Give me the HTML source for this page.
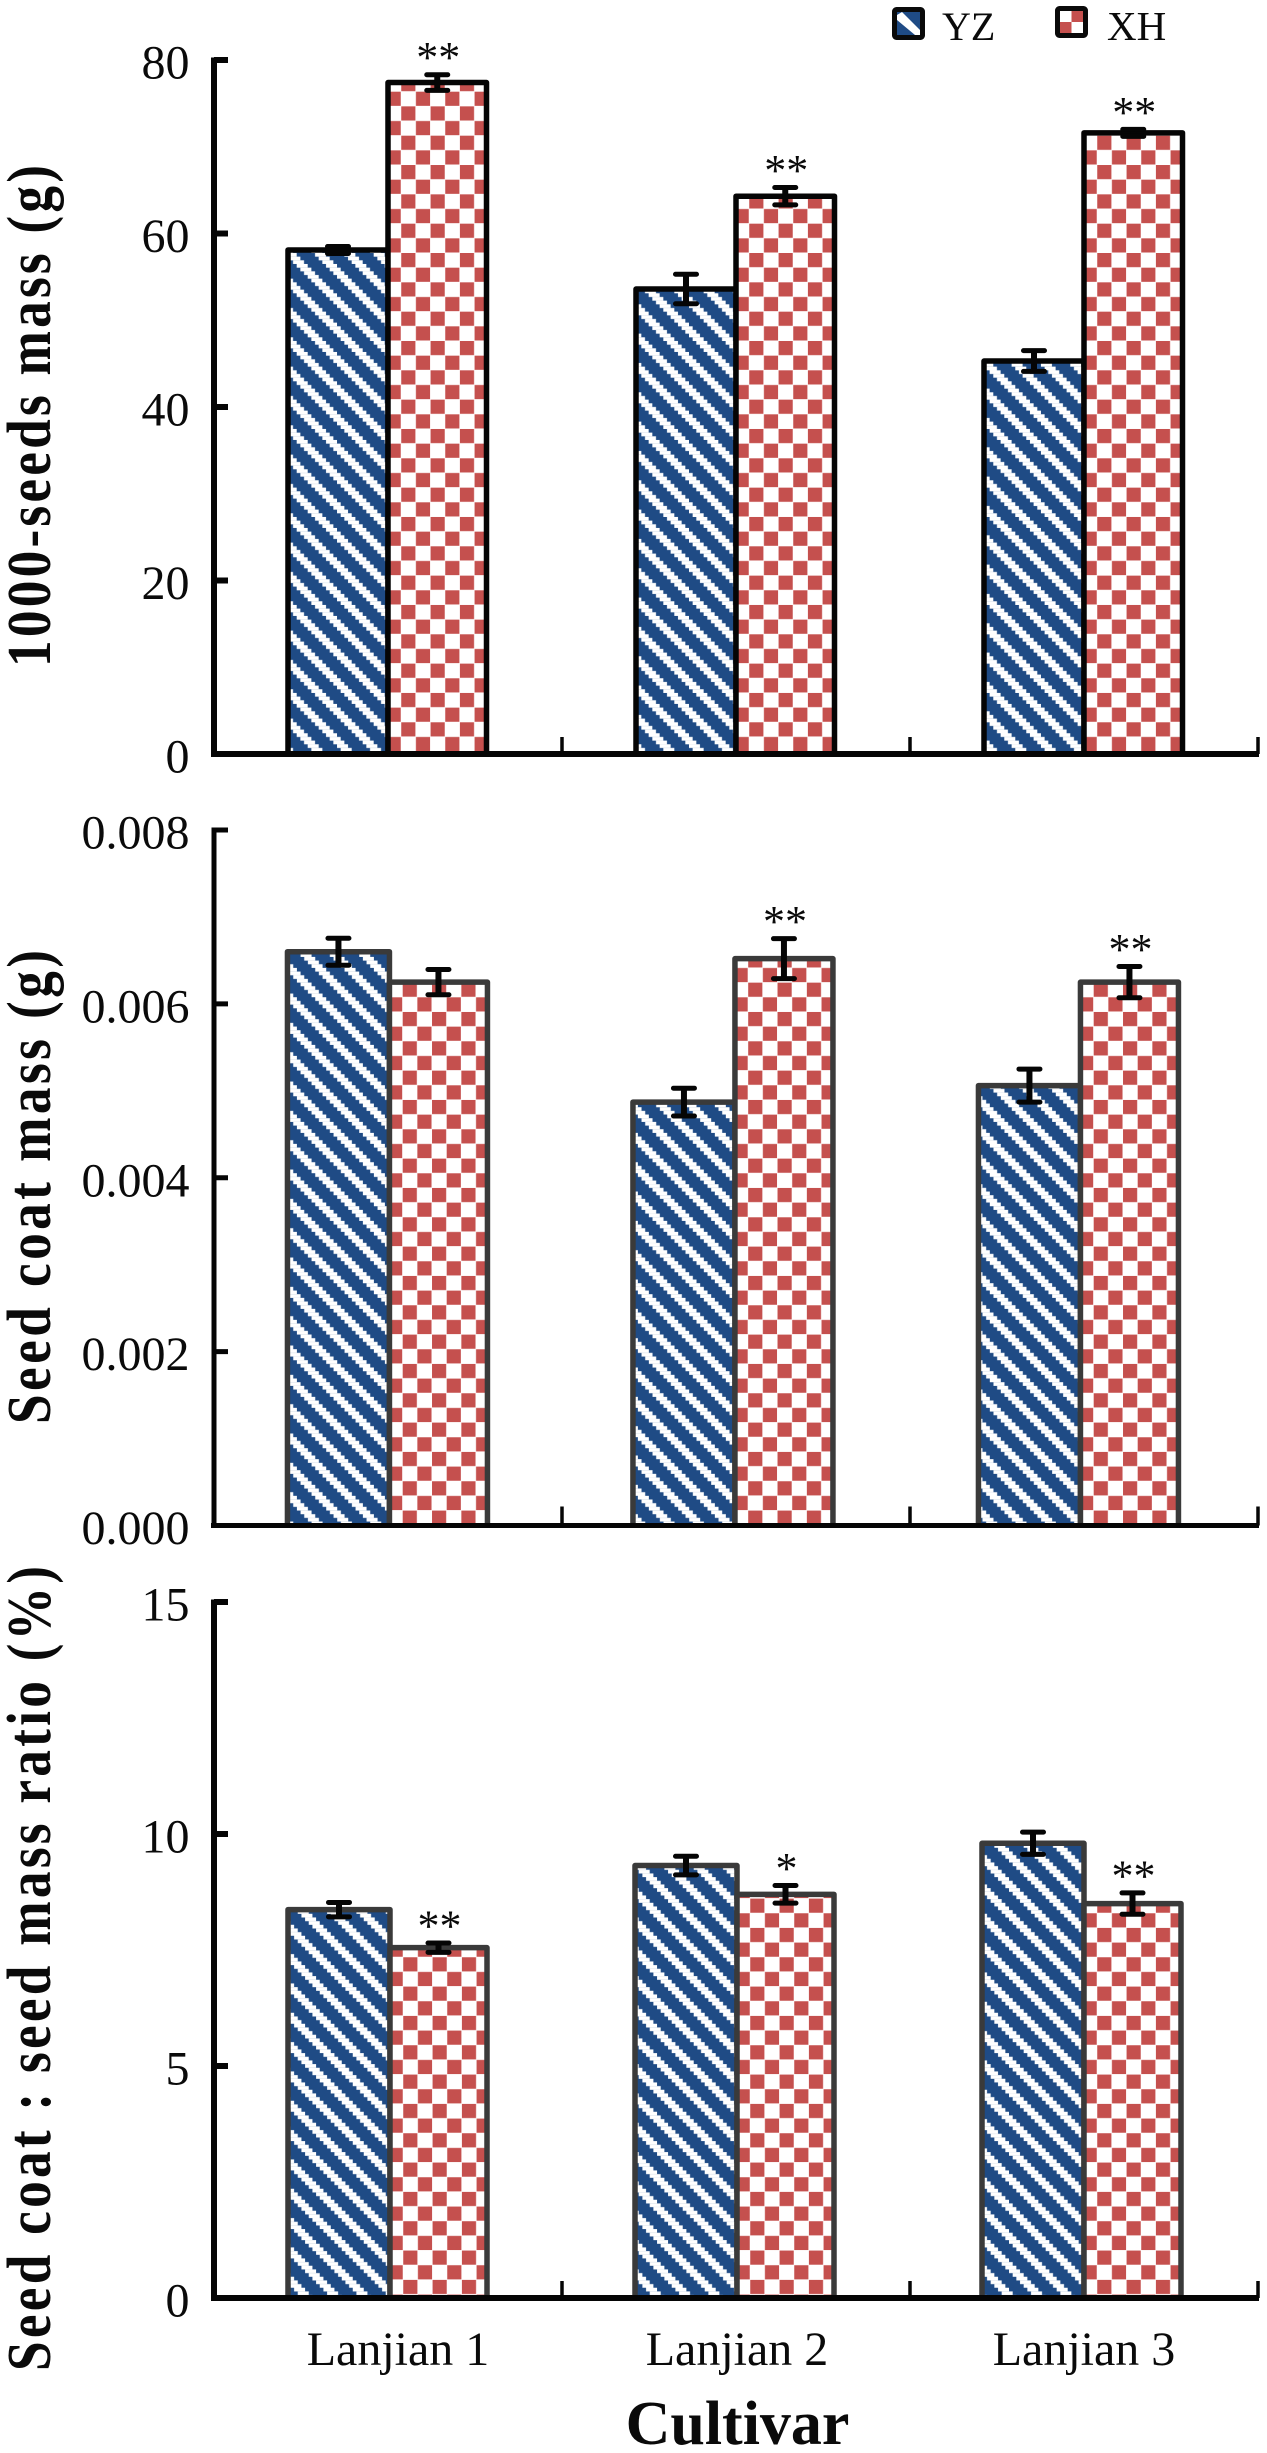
<!DOCTYPE html>
<html lang="en">
<head>
<meta charset="utf-8">
<title>Seed traits by cultivar</title>
<style>
html,body{margin:0;padding:0;background:#fff;}
svg{display:block;}
text{font-family:"Liberation Serif",serif;fill:#0a0a0a;}
</style>
</head>
<body>
<svg id="chart" xmlns="http://www.w3.org/2000/svg" width="1267" height="2453" viewBox="0 0 1267 2453">
  <defs id="defs"></defs>
  <g id="legend">
    <g>
      <rect x="894.5" y="9.5" width="28" height="28" rx="2" fill="#fff" stroke="#0a0a0a" stroke-width="5"/>
      <rect x="897" y="12" width="23" height="23" fill="#1f4b85"/>
      <polygon points="897,15 902,12 920,30 920,35 915,35 897,20" fill="#fff"/>
      <text x="942" y="40" font-size="40">YZ</text>
    </g>
    <g>
      <rect x="1057.5" y="8.5" width="28" height="27" rx="2" fill="#fff" stroke="#0a0a0a" stroke-width="5"/>
      <rect x="1071.5" y="11" width="11.5" height="11" fill="#c5504e"/>
      <rect x="1060" y="22" width="11.5" height="11" fill="#c5504e"/>
      <text x="1107" y="40" font-size="41">XH</text>
    </g>
  </g>
  <g id="plots"></g>
  <text x="737.5" y="2444" font-size="62" font-weight="bold" text-anchor="middle">Cultivar</text>
</svg>
<script>
// ---- data ----
const categories = ['Lanjian 1', 'Lanjian 2', 'Lanjian 3'];
const seriesNames = ['YZ', 'XH'];

const massTicks = [0, 20, 40, 60, 80];
const massTickLabels = ['0', '20', '40', '60', '80'];
const massYZ = [58.1, 53.6, 45.3];
const massXH = [77.4, 64.3, 71.6];
const massErrYZ = [0.4, 1.7, 1.2];
const massErrXH = [0.9, 1.0, 0.4];
const massSigYZ = ['', '', ''];
const massSigXH = ['**', '**', '**'];

const coatTicks = [0, 0.002, 0.004, 0.006, 0.008];
const coatTickLabels = ['0.000', '0.002', '0.004', '0.006', '0.008'];
const coatYZ = [0.0066, 0.00487, 0.00506];
const coatXH = [0.00625, 0.00652, 0.00625];
const coatErrYZ = [0.000155, 0.00016, 0.00019];
const coatErrXH = [0.000145, 0.00023, 0.00018];
const coatSigYZ = ['', '', ''];
const coatSigXH = ['', '**', '**'];

const ratioTicks = [0, 5, 10, 15];
const ratioTickLabels = ['0', '5', '10', '15'];
const ratioYZ = [8.37, 9.32, 9.8];
const ratioXH = [7.55, 8.7, 8.5];
const ratioErrYZ = [0.155, 0.2, 0.24];
const ratioErrXH = [0.1, 0.19, 0.23];
const ratioSigYZ = ['', '', ''];
const ratioSigXH = ['**', '*', '**'];

// ---- layout ----
const NS = 'http://www.w3.org/2000/svg';
const PERIOD = 29.33;
const BLUE = '#1f4b85';
const RED = '#c5504e';
const AXIS_LEFT = 214;
const AXIS_RIGHT = 1258;
const TITLE_SQUEEZE = 0.86;

const panels = [
  { key: 'mass', title: '1000-seeds mass (g)', titleBottom: 667, titleLength: 502,
    ticks: massTicks, labels: massTickLabels, yz: massYZ, xh: massXH, eyz: massErrYZ, exh: massErrXH, syz: massSigYZ, sxh: massSigXH,
    top: 60, zero: 754, max: 80, axisW: 6, barColor: '#050505', barStroke: 5.5,
    bandStart: 214, bandStep: 348, wL: 100, wR: 98.5, stripeOffset: 14.4, checkerY: -17.3, tickLen: 17 },
  { key: 'coat', title: 'Seed coat mass (g)', titleBottom: 1424, titleLength: 474,
    ticks: coatTicks, labels: coatTickLabels, yz: coatYZ, xh: coatXH, eyz: coatErrYZ, exh: coatErrXH, syz: coatSigYZ, sxh: coatSigXH,
    top: 830, zero: 1525.5, max: 0.008, axisW: 5, barColor: '#3a3a3a', barStroke: 5.5,
    bandStart: 216.7, bandStep: 345.5, wL: 102, wR: 98, stripeOffset: 3.6, checkerY: -0.5, tickLen: 19 },
  { key: 'ratio', title: 'Seed coat : seed mass ratio (%)', titleBottom: 2371, titleLength: 805,
    ticks: ratioTicks, labels: ratioTickLabels, yz: ratioYZ, xh: ratioXH, eyz: ratioErrYZ, exh: ratioErrXH, syz: ratioSigYZ, sxh: ratioSigXH,
    top: 1602, zero: 2298, max: 15, axisW: 6, barColor: '#3a3a3a', barStroke: 5.5,
    bandStart: 216.5, bandStep: 347, wL: 102, wR: 97, stripeOffset: 11.8, checkerY: -3.7, tickLen: 17 }
];

function make(tag, attrs, parent) {
  const e = document.createElementNS(NS, tag);
  for (const k in attrs) e.setAttribute(k, attrs[k]);
  if (parent) parent.appendChild(e);
  return e;
}

const defs = document.getElementById('defs');
const plots = document.getElementById('plots');

function stripePattern(id, offset) {
  const p = make('pattern', { id: id, patternUnits: 'userSpaceOnUse', x: offset, y: 0, width: PERIOD, height: PERIOD }, defs);
  make('rect', { x: 0, y: 0, width: PERIOD, height: PERIOD, fill: BLUE }, p);
  const s = PERIOD / 8;
  const whiteW = 11;
  for (let r = 0; r < 8; r++) {
    make('rect', { x: r * s - whiteW, y: r * s, width: whiteW, height: s + 0.05, fill: '#fff' }, p);
    make('rect', { x: r * s - whiteW + PERIOD, y: r * s, width: whiteW, height: s + 0.05, fill: '#fff' }, p);
  }
}

function checkerPattern(id, x0, y0) {
  const c = PERIOD / 2;
  const p = make('pattern', { id: id, patternUnits: 'userSpaceOnUse', x: x0, y: y0, width: PERIOD, height: PERIOD }, defs);
  make('rect', { x: 0, y: 0, width: PERIOD, height: PERIOD, fill: '#fff' }, p);
  make('rect', { x: 0.25, y: 0.25, width: c - 0.5, height: c - 0.5, fill: RED }, p);
  make('rect', { x: c + 0.25, y: c + 0.25, width: c - 0.5, height: c - 0.5, fill: RED }, p);
}

function drawPanel(pn) {
  const yScale = v => pn.zero - (v / pn.max) * (pn.zero - pn.top);
  const xCenter = i => pn.bandStart + (i + 0.5) * pn.bandStep;
  const tickX = i => AXIS_LEFT + (i + 1) * 348;

  const g = make('g', {}, plots);
  
  

  stripePattern('stripe-' + pn.key, pn.stripeOffset);

  categories.forEach((cat, i) => {
    const mid = xCenter(i);
    const leftX = mid - pn.wL;
    const cid = 'checker-' + pn.key + '-' + i;
    checkerPattern(cid, mid - 1.67, pn.zero + pn.checkerY);

    // YZ bar
    const yY = yScale(pn.yz[i]);
    const barYZ = make('path', {
      d: 'M' + leftX + ' ' + pn.zero + 'V' + yY + 'H' + mid + 'V' + pn.zero,
      fill: 'url(#stripe-' + pn.key + ')', stroke: pn.barColor, 'stroke-width': pn.barStroke, 'stroke-linejoin': 'round'
    }, g);
    
    

    // XH bar
    const yX = yScale(pn.xh[i]);
    const barXH = make('path', {
      d: 'M' + mid + ' ' + pn.zero + 'V' + yX + 'H' + (mid + pn.wR) + 'V' + pn.zero,
      fill: 'url(#' + cid + ')', stroke: pn.barColor, 'stroke-width': pn.barStroke, 'stroke-linejoin': 'round'
    }, g);
    
    
  });

  // error bars and significance marks, on top of every bar
  categories.forEach((cat, i) => {
    const mid = xCenter(i);
    [
      { name: 'yz', cx: mid - pn.wL / 2, v: pn.yz[i], e: pn.eyz[i], sig: pn.syz[i] },
      { name: 'xh', cx: mid + pn.wR / 2, v: pn.xh[i], e: pn.exh[i], sig: pn.sxh[i] }
    ].forEach(s => {
      const hi = yScale(s.v + s.e);
      const lo = yScale(s.v - s.e);
      const eb = make('path', {
        d: 'M' + s.cx + ' ' + hi + 'V' + lo,
        stroke: '#050505', 'stroke-width': 6, fill: 'none'
      }, g);
      
      
      const caps = make('path', {
        d: 'M' + (s.cx - 10.5) + ' ' + hi + 'H' + (s.cx + 10.5) + 'M' + (s.cx - 10.5) + ' ' + lo + 'H' + (s.cx + 10.5),
        stroke: '#050505', 'stroke-width': 5, 'stroke-linecap': 'round', fill: 'none'
      }, g);
      
      
      if (s.sig) {
        const t = make('text', { x: s.cx + 1, y: hi - 2.5, 'font-size': 44, 'text-anchor': 'middle' }, g);
        t.textContent = s.sig;
        
        
      }
    });
  });

  // axes
  const yAxis = make('line', { x1: AXIS_LEFT, x2: AXIS_LEFT, y1: pn.top - 2.5, y2: pn.zero, stroke: '#050505', 'stroke-width': pn.axisW }, g);
  
  
  const xAxis = make('line', { x1: AXIS_LEFT - 3, x2: AXIS_RIGHT + 1, y1: pn.zero, y2: pn.zero, stroke: '#050505', 'stroke-width': pn.axisW }, g);
  
  

  pn.ticks.forEach((v, i) => {
    const y = yScale(v);
    if (v !== 0) {
      const tk = make('line', { x1: AXIS_LEFT, x2: AXIS_LEFT + 14, y1: y, y2: y, stroke: '#050505', 'stroke-width': pn.axisW }, g);
      
      
    }
    const lb = make('text', { x: 189.5, y: y + 18.5, 'font-size': 48, 'text-anchor': 'end' }, g);
    lb.textContent = pn.labels[i];
    
    
  });

  categories.forEach((cat, i) => {
    const tk = make('line', { x1: tickX(i), x2: tickX(i), y1: pn.zero, y2: pn.zero - pn.tickLen, stroke: '#050505', 'stroke-width': 3.5 }, g);
    
    
  });

  const title = make('text', {
    transform: 'translate(50 ' + pn.titleBottom + ') rotate(-90) scale(' + TITLE_SQUEEZE + ' 1)',
    x: 0, y: 0, 'font-size': 62, 'font-weight': 'bold',
    textLength: pn.titleLength / TITLE_SQUEEZE, lengthAdjust: 'spacing'
  }, g);
  title.textContent = pn.title;
  
  
}

panels.forEach(drawPanel);

// category labels sit under the last panel only
const lastPanel = panels[2];
categories.forEach((cat, i) => {
  const t = make('text', {
    x: lastPanel.bandStart + (i + 0.5) * lastPanel.bandStep + (i === 0 ? 8 : 0),
    y: 2365, 'font-size': 48, 'text-anchor': 'middle'
  }, plots);
  t.textContent = cat;
  
  
});
</script>
</body>
</html>
